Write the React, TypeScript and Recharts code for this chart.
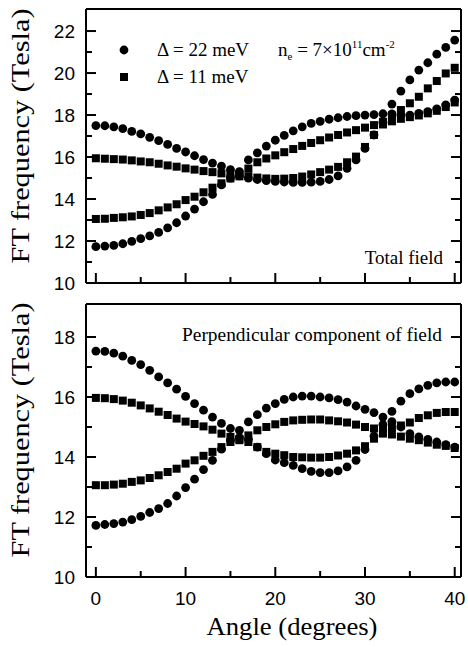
import React from "react";
import { ScatterChart, Scatter, XAxis, YAxis } from "recharts";

// angle in degrees, one point per degree
const angles = [
  0, 1, 2, 3, 4, 5, 6, 7, 8, 9, 10, 11, 12, 13, 14, 15, 16, 17, 18, 19, 20,
  21, 22, 23, 24, 25, 26, 27, 28, 29, 30, 31, 32, 33, 34, 35, 36, 37, 38, 39, 40,
];

// total field, Δ = 22 meV (circles)
const topCircHi = [
  17.5, 17.49, 17.44, 17.35, 17.22, 17.1, 16.94, 16.78, 16.6, 16.41, 16.24,
  16.06, 15.88, 15.71, 15.57, 15.4, 15.3, 15.86, 16.2, 16.52, 16.8, 17.03,
  17.25, 17.44, 17.6, 17.7, 17.8, 17.87, 17.93, 17.97, 18.0, 18.02, 18.06,
  18.52, 19.14, 19.67, 20.14, 20.49, 20.9, 21.22, 21.57,
];
const topCircLo = [
  11.73, 11.76, 11.79, 11.87, 11.98, 12.11, 12.24, 12.41, 12.63, 12.87, 13.19,
  13.52, 13.87, 14.22, 14.67, 15.0, 15.1, 15.0, 14.93, 14.88, 14.84, 14.81,
  14.79, 14.79, 14.8, 14.84, 14.93, 15.1, 15.46, 15.86, 16.41, 17.05, 17.65,
  18.05, 18.0, 18.0, 18.08, 18.16, 18.29, 18.48, 18.71,
];
// total field, Δ = 11 meV (squares)
const topSqHi = [
  15.94, 15.92, 15.9, 15.88, 15.84, 15.79, 15.75, 15.68, 15.6, 15.54, 15.46,
  15.4, 15.33, 15.28, 15.22, 15.18, 15.2, 15.45, 15.75, 15.93, 16.08, 16.23,
  16.38, 16.53, 16.67, 16.8, 16.93, 17.05, 17.17, 17.28, 17.4, 17.52, 17.68,
  17.98, 18.24, 18.56, 18.87, 19.27, 19.62, 19.98, 20.25,
];
const topSqLo = [
  13.05, 13.06, 13.1, 13.13, 13.17, 13.24, 13.33, 13.46, 13.6, 13.75, 13.95,
  14.11, 14.32, 14.54, 14.75, 14.98, 15.08, 15.08, 15.02, 14.98, 14.96, 14.97,
  15.0, 15.07, 15.17, 15.28, 15.4, 15.53, 15.75, 16.02, 16.48, 17.05, 17.55,
  17.7, 17.82, 17.9, 17.98, 18.08, 18.2, 18.38, 18.6,
];

// perpendicular component, Δ = 22 meV
const botCircHi = [
  17.53, 17.52, 17.46, 17.36, 17.22, 17.08, 16.89, 16.67, 16.47, 16.26, 16.02,
  15.78, 15.56, 15.33, 15.12, 14.95, 14.89, 15.17, 15.41, 15.63, 15.78, 15.92,
  16.0, 16.03, 16.03, 16.0, 15.97, 15.91, 15.83, 15.7, 15.59, 15.48, 15.33,
  15.52, 15.86, 16.11, 16.27, 16.39, 16.47, 16.5, 16.5,
];
const botCircLo = [
  11.72, 11.75, 11.78, 11.83, 11.91, 12.02, 12.15, 12.28, 12.45, 12.7, 12.98,
  13.26, 13.58, 13.89, 14.26, 14.55, 14.65, 14.58, 14.33, 14.11, 13.9, 13.81,
  13.72, 13.61, 13.52, 13.48, 13.48, 13.54, 13.67, 13.89, 14.25, 14.7, 15.08,
  15.18, 15.0, 14.78, 14.67, 14.59, 14.5, 14.41, 14.33,
];
// perpendicular component, Δ = 11 meV
const botSqHi = [
  15.97, 15.96, 15.93, 15.88, 15.81, 15.72, 15.62, 15.51, 15.4, 15.28, 15.18,
  15.1, 15.02, 14.91, 14.78, 14.67, 14.6, 14.72, 14.89, 15.0, 15.09, 15.17,
  15.22, 15.24, 15.25, 15.25, 15.22, 15.19, 15.15, 15.08, 15.0, 14.95, 14.95,
  15.0, 15.05, 15.15, 15.3, 15.39, 15.47, 15.5, 15.5,
];
const botSqLo = [
  13.06, 13.06, 13.08, 13.11, 13.17, 13.22, 13.3, 13.39, 13.5, 13.61, 13.78,
  13.89, 14.04, 14.17, 14.33, 14.5, 14.56, 14.5, 14.33, 14.17, 14.11, 14.06,
  14.0, 13.99, 13.98, 13.98, 14.0, 14.05, 14.11, 14.22, 14.36, 14.61, 14.78,
  14.75, 14.68, 14.61, 14.56, 14.48, 14.41, 14.37, 14.3,
];

const xTicks = [0, 5, 10, 15, 20, 25, 30, 35, 40];
const topYTicks = [10, 11, 12, 13, 14, 15, 16, 17, 18, 19, 20, 21, 22];
const botYTicks = [10, 11, 12, 13, 14, 15, 16, 17, 18];
const legendLabels = ["Δ = 22 meV", "Δ = 11 meV"];

const X_DOMAIN = [-1.1, 40.7];
const SANS = "'Liberation Sans', Arial, sans-serif";
const SERIF = "'Liberation Serif', 'Times New Roman', serif";

const pts = (ys: number[]) => angles.map((a, i) => ({ x: a, y: ys[i] }));

const Dot = (p: any) => <circle cx={p.cx} cy={p.cy} r={4.4} fill="#000" />;
const Sq = (p: any) => (
  <rect x={p.cx - 4} y={p.cy - 4} width={8} height={8} fill="#000" />
);

// inward ticks; x/y from recharts is the axis line because tickSize and tickMargin are 0
function makeTick(side: string, labels: boolean) {
  return (p: any) => {
    const v = p.payload.value;
    const vertical = side === "left" || side === "right";
    const major = vertical ? v % 2 === 0 : v % 10 === 0;
    const len = major ? 10 : 6;
    const { x, y } = p;
    let line;
    if (side === "bottom") line = <line x1={x} x2={x} y1={y} y2={y - len} />;
    else if (side === "top") line = <line x1={x} x2={x} y1={y} y2={y + len} />;
    else if (side === "left") line = <line x1={x} x2={x + len} y1={y} y2={y} />;
    else line = <line x1={x} x2={x - len} y1={y} y2={y} />;
    return (
      <g stroke="#000" strokeWidth={2}>
        {line}
        {labels && major && side === "left" && (
          <text x={x - 11} y={y + 7} textAnchor="end" fontSize={19} fontFamily={SANS} fill="#000" stroke="none">
            {v}
          </text>
        )}
        {labels && major && side === "bottom" && (
          <text x={x} y={y + 28} textAnchor="middle" fontSize={19} fontFamily={SANS} fill="#000" stroke="none">
            {v}
          </text>
        )}
      </g>
    );
  };
}

interface PanelProps {
  height: number;
  topH: number;
  bottomH: number;
  yDomain: number[];
  yTicks: number[];
  circHi: number[];
  circLo: number[];
  sqHi: number[];
  sqLo: number[];
  xLabels: boolean;
}

function Panel(props: PanelProps) {
  const axisLine = { stroke: "#000", strokeWidth: 2 };
  return (
    <ScatterChart width={468} height={props.height} margin={{ top: 0, right: 0, bottom: 0, left: 0 }}>
      <XAxis
        xAxisId={0}
        type="number"
        dataKey="x"
        domain={X_DOMAIN}
        ticks={xTicks}
        interval={0}
        allowDataOverflow
        height={props.bottomH}
        tickSize={0}
        tickMargin={0}
        tickLine={false}
        axisLine={axisLine}
        tick={makeTick("bottom", props.xLabels)}
      />
      <XAxis
        xAxisId="top"
        orientation="top"
        type="number"
        domain={X_DOMAIN}
        ticks={xTicks}
        interval={0}
        allowDataOverflow
        height={props.topH}
        tickSize={0}
        tickMargin={0}
        tickLine={false}
        axisLine={axisLine}
        tick={makeTick("top", false)}
      />
      <YAxis
        yAxisId={0}
        type="number"
        dataKey="y"
        domain={props.yDomain}
        ticks={props.yTicks}
        interval={0}
        allowDataOverflow
        width={86}
        tickSize={0}
        tickMargin={0}
        tickLine={false}
        axisLine={axisLine}
        tick={makeTick("left", true)}
      />
      <YAxis
        yAxisId="right"
        orientation="right"
        type="number"
        domain={props.yDomain}
        ticks={props.yTicks}
        interval={0}
        allowDataOverflow
        width={7}
        tickSize={0}
        tickMargin={0}
        tickLine={false}
        axisLine={axisLine}
        tick={makeTick("right", false)}
      />
      <Scatter data={pts(props.circHi)} shape={Dot} isAnimationActive={false} />
      <Scatter data={pts(props.circLo)} shape={Dot} isAnimationActive={false} />
      <Scatter data={pts(props.sqHi)} shape={Sq} isAnimationActive={false} />
      <Scatter data={pts(props.sqLo)} shape={Sq} isAnimationActive={false} />
    </ScatterChart>
  );
}

export default function App() {
  return (
    <div style={{ position: "absolute", left: 0, top: 0, width: 468, height: 647, background: "#fff" }}>
      <div style={{ position: "absolute", left: 0, top: 0 }}>
        <Panel
          height={300}
          topH={9}
          bottomH={17}
          yDomain={[10, 23.05]}
          yTicks={topYTicks}
          circHi={topCircHi}
          circLo={topCircLo}
          sqHi={topSqHi}
          sqLo={topSqLo}
          xLabels={false}
        />
      </div>
      <div style={{ position: "absolute", left: 0, top: 300 }}>
        <Panel
          height={347}
          topH={4}
          bottomH={70}
          yDomain={[10, 19.1]}
          yTicks={botYTicks}
          circHi={botCircHi}
          circLo={botCircLo}
          sqHi={botSqHi}
          sqLo={botSqLo}
          xLabels={true}
        />
      </div>
      <svg
        width={468}
        height={647}
        style={{ position: "absolute", left: 0, top: 0, pointerEvents: "none" }}
        fontFamily={SERIF}
        fill="#000"
      >
        <text transform="translate(29,136) rotate(-90)" textAnchor="middle" fontSize={25} textLength={255} lengthAdjust="spacingAndGlyphs">
          FT frequency (Tesla)
        </text>
        <text transform="translate(29,430) rotate(-90)" textAnchor="middle" fontSize={25} textLength={255} lengthAdjust="spacingAndGlyphs">
          FT frequency (Tesla)
        </text>
        <text x={292} y={635} textAnchor="middle" fontSize={25} textLength={171} lengthAdjust="spacingAndGlyphs">
          Angle (degrees)
        </text>

        <circle cx={124} cy={50} r={4.4} />
        <rect x={120} y={73} width={8} height={8} />
        <text x={157} y={56} fontSize={19}>{legendLabels[0]}</text>
        <text x={157} y={83} fontSize={19}>{legendLabels[1]}</text>
        <text x={278} y={56} fontSize={19}>
          n<tspan fontSize={11} dy={4}>e</tspan>
          <tspan dy={-4}> = 7×10</tspan>
          <tspan fontSize={11} dy={-8}>11</tspan>
          <tspan dy={8}>cm</tspan>
          <tspan fontSize={11} dy={-8}>-2</tspan>
        </text>

        <text x={443} y={264} textAnchor="end" fontSize={19}>Total field</text>
        <text x={182} y={341} fontSize={19} textLength={260} lengthAdjust="spacingAndGlyphs">
          Perpendicular component of field
        </text>
      </svg>
    </div>
  );
}
